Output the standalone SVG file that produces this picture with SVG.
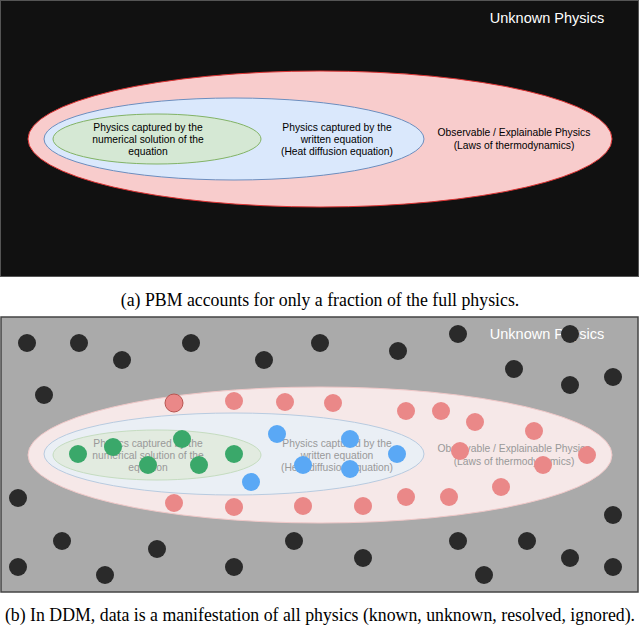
<svg xmlns="http://www.w3.org/2000/svg" width="640" height="625" viewBox="0 0 640 625">
<style>
text{font-family:"Liberation Sans",Arial,sans-serif;font-size:10.3px;text-anchor:middle}
.cap{font-family:"Liberation Serif","Times New Roman",serif;font-size:17.8px;fill:#000}
.k{fill:#2a2a2a}.r{fill:#ea8888}.b{fill:#5aa8f5}.g{fill:#3aa86a}
.f{fill:#999}
</style>
<rect x="0.5" y="0.5" width="638" height="276" fill="#111" stroke="#555"/>
<text x="547" y="23" style="font-size:14.5px" fill="#fff">Unknown Physics</text>
<g id="observable"><ellipse cx="320" cy="139" rx="292" ry="68" fill="#f8cccc" stroke="#d33" stroke-width="1"/>
<text x="514" y="136">Observable / Explainable Physics</text><text x="514" y="149">(Laws of thermodynamics)</text></g>
<g id="written"><ellipse cx="234" cy="139" rx="190" ry="41" fill="#dae8fc" stroke="#6c8ebf"/>
<text x="337" y="131">Physics captured by the</text><text x="337" y="143">written equation</text><text x="337" y="155">(Heat diffusion equation)</text></g>
<g id="numerical"><ellipse cx="157" cy="139" rx="104" ry="25" fill="#d5e8d4" stroke="#82b366"/>
<text x="148" y="131">Physics captured by the</text><text x="148" y="143">numerical solution of the</text><text x="148" y="155">equation</text></g>
<text class="cap" x="320" y="306">(a) PBM accounts for only a fraction of the full physics.</text>
<g id="panel-b">
<rect x="1" y="317" width="637" height="275" fill="#aaa" stroke="#444" stroke-width="1.5"/>
<ellipse cx="320" cy="455" rx="292" ry="68" fill="#f6e8e8" stroke="#f0c8c8"/>
<ellipse cx="234" cy="454" rx="190" ry="41" fill="#eaeff5" stroke="#b8cbe0"/>
<ellipse cx="157" cy="455" rx="104" ry="25" fill="#e2ebe0" stroke="#c5dcc0"/>
<g class="f"><text x="148" y="447">Physics captured by the</text><text x="148" y="459">numerical solution of the</text><text x="148" y="471">equation</text>
<text x="337" y="447">Physics captured by the</text><text x="337" y="459">written equation</text><text x="337" y="471">(Heat diffusion equation)</text>
<text x="514" y="452">Observable / Explainable Physics</text><text x="514" y="465">(Laws of thermodynamics)</text></g>
<text x="547" y="339" style="font-size:14.5px" fill="#fff">Unknown Physics</text>
<g class="k"><circle cx="27" cy="343" r="9"/><circle cx="79" cy="343" r="9"/><circle cx="122" cy="360" r="9"/><circle cx="191" cy="343" r="9"/><circle cx="264" cy="360" r="9"/><circle cx="320" cy="343" r="9"/><circle cx="398" cy="351" r="9"/><circle cx="458" cy="334" r="9"/><circle cx="570" cy="334" r="9"/><circle cx="514" cy="369" r="9"/><circle cx="570" cy="385" r="9"/><circle cx="613" cy="377" r="9"/><circle cx="44" cy="395" r="9"/><circle cx="18" cy="498" r="9"/><circle cx="613" cy="515" r="9"/><circle cx="62" cy="541" r="9"/><circle cx="157" cy="549" r="9"/><circle cx="18" cy="567" r="9"/><circle cx="105" cy="575" r="9"/><circle cx="234" cy="567" r="9"/><circle cx="294" cy="541" r="9"/><circle cx="363" cy="558" r="9"/><circle cx="458" cy="541" r="9"/><circle cx="527" cy="541" r="9"/><circle cx="570" cy="558" r="9"/><circle cx="613" cy="567" r="9"/><circle cx="484" cy="575" r="9"/></g>
<g class="r"><circle cx="174" cy="403" r="9" stroke="#b85450"/><circle cx="234" cy="401" r="9"/><circle cx="285" cy="402" r="9"/><circle cx="333" cy="403" r="9"/><circle cx="406" cy="411" r="9"/><circle cx="441" cy="411" r="9"/><circle cx="475" cy="422" r="9"/><circle cx="534" cy="431" r="9"/><circle cx="460" cy="451" r="9"/><circle cx="587" cy="455" r="9"/><circle cx="543" cy="465" r="9"/><circle cx="501" cy="487" r="9"/><circle cx="449" cy="497" r="9"/><circle cx="406" cy="497" r="9"/><circle cx="363" cy="506" r="9"/><circle cx="303" cy="506" r="9"/><circle cx="234" cy="507" r="9"/><circle cx="174" cy="503" r="9"/></g>
<g class="b"><circle cx="277" cy="434" r="9"/><circle cx="350" cy="439" r="9"/><circle cx="397" cy="454" r="9"/><circle cx="303" cy="465" r="9"/><circle cx="350" cy="469" r="9"/><circle cx="251" cy="482" r="9"/></g>
<g class="g"><circle cx="78" cy="454" r="9"/><circle cx="113" cy="447" r="9"/><circle cx="182" cy="439" r="9"/><circle cx="234" cy="454" r="9"/><circle cx="148" cy="465" r="9"/><circle cx="199" cy="465" r="9"/></g>
</g>
<text class="cap" x="320" y="621">(b) In DDM, data is a manifestation of all physics (known, unknown, resolved, ignored).</text>
</svg>
